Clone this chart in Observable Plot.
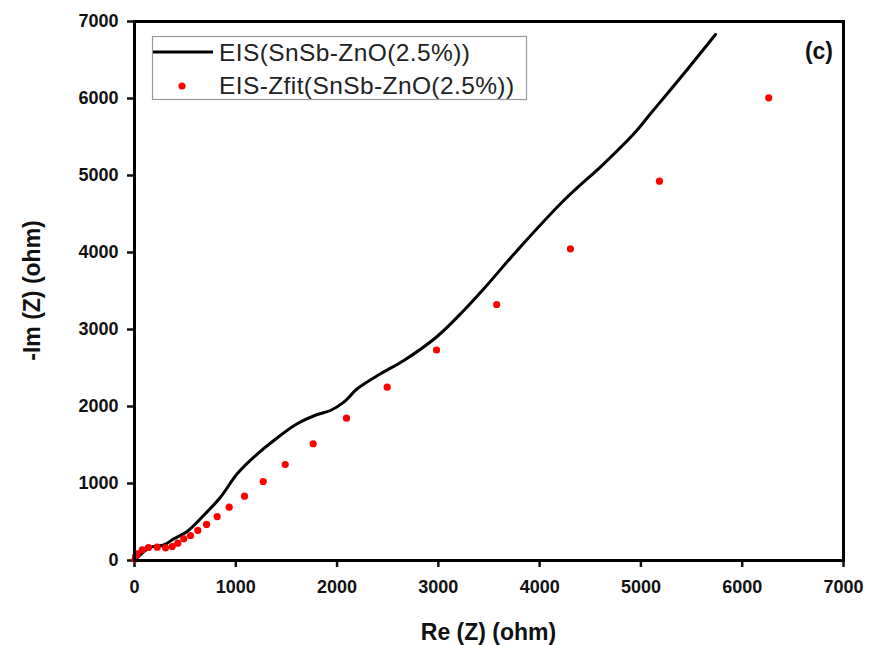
<!DOCTYPE html>
<html>
<head>
<meta charset="utf-8">
<script src="https://cdn.jsdelivr.net/npm/d3@7"></script>
<script src="https://cdn.jsdelivr.net/npm/@observablehq/plot@0.6"></script>
<style>
  html, body { margin: 0; padding: 0; background: #fff; }
  #chart { width: 869px; height: 645px; }
</style>
</head>
<body>
<div id="chart"></div>
<script>
// Measured EIS curve (Re Z, -Im Z)
const eisRe = [0, 158, 289, 388, 520, 691, 849, 1014, 1178, 1375, 1606, 1804, 1935, 2066, 2199, 2429, 2659, 2988, 3251, 3449, 3778, 4238, 4633, 4930, 5094, 5423, 5736];
const eisIm = [0, 173, 201, 282, 377, 597, 822, 1126, 1342, 1558, 1775, 1896, 1948, 2056, 2230, 2425, 2597, 2909, 3247, 3529, 4026, 4675, 5152, 5542, 5801, 6321, 6831];

// Fitted points
const fitRe = [5, 10, 27, 76, 138, 224, 306, 372, 427, 487, 553, 625, 711, 816, 935, 1086, 1271, 1488, 1764, 2093, 2495, 2982, 3576, 4304, 5183, 6262];
const fitIm = [15, 50, 87, 139, 169, 173, 165, 182, 225, 282, 325, 390, 468, 571, 692, 835, 1026, 1247, 1516, 1848, 2251, 2734, 3325, 4048, 4926, 6009];

const xTicks = [0, 1000, 2000, 3000, 4000, 5000, 6000, 7000];
const yTicks = [0, 1000, 2000, 3000, 4000, 5000, 6000, 7000];

const seriesNames = ["EIS(SnSb-ZnO(2.5%))", "EIS-Zfit(SnSb-ZnO(2.5%))"];
const xLabel = "Re (Z) (ohm)";
const yLabel = "-Im (Z) (ohm)";
const panelTag = "(c)";

const eis = eisRe.map((x, i) => ({x, y: eisIm[i]}));
const fit = fitRe.map((x, i) => ({x, y: fitIm[i]}));

const W = 869, H = 645;
const mL = 134, mR = 26, mT = 21, mB = 85;

const chart = Plot.plot({
  width: W, height: H,
  marginLeft: mL, marginRight: mR, marginTop: mT, marginBottom: mB,
  style: {fontFamily: "'Liberation Sans', Arial, sans-serif", background: "#fff", color: "#111"},
  x: {domain: [0, 7000]},
  y: {domain: [0, 7000]},
  marks: [
    Plot.axisX({ticks: xTicks, tickSize: 7, strokeWidth: 2.5, fontSize: 18, fontWeight: "bold", tickPadding: 13, tickFormat: d => String(d), label: null}),
    Plot.axisY({ticks: yTicks, tickSize: 7, strokeWidth: 2.5, fontSize: 18, fontWeight: "bold", tickPadding: 9, tickFormat: d => String(d), label: null}),
    Plot.line(eis, {x: "x", y: "y", curve: "catmull-rom", stroke: "#000", strokeWidth: 3}),
    Plot.dot(fit, {x: "x", y: "y", r: 3.6, fill: "#ff0000", stroke: "none"}),
    Plot.frame({stroke: "#000", strokeWidth: 3})
  ]
});

document.getElementById("chart").appendChild(chart);

const svg = d3.select(chart);
const font = "'Liberation Sans', Arial, sans-serif";

// Axis titles
svg.append("text")
  .attr("x", mL + (W - mL - mR) / 2).attr("y", 640)
  .attr("text-anchor", "middle")
  .attr("font-family", font).attr("font-weight", "bold").attr("font-size", 23)
  .attr("fill", "#111")
  .text(xLabel);

svg.append("text")
  .attr("transform", `translate(40, ${mT + (H - mT - mB) / 2}) rotate(-90)`)
  .attr("text-anchor", "middle")
  .attr("font-family", font).attr("font-weight", "bold").attr("font-size", 23)
  .attr("fill", "#111")
  .text(yLabel);

// Panel tag
svg.append("text")
  .attr("x", 833).attr("y", 59)
  .attr("text-anchor", "end")
  .attr("font-family", font).attr("font-weight", "bold").attr("font-size", 23)
  .attr("fill", "#111")
  .text(panelTag);

// Legend
const lg = svg.append("g");
lg.append("rect")
  .attr("x", 152.5).attr("y", 36.5).attr("width", 374).attr("height", 63)
  .attr("fill", "#fff").attr("stroke", "#999").attr("stroke-width", 1.2);
lg.append("line")
  .attr("x1", 153).attr("x2", 213).attr("y1", 52).attr("y2", 52)
  .attr("stroke", "#000").attr("stroke-width", 3);
lg.append("circle")
  .attr("cx", 182).attr("cy", 86).attr("r", 3.6).attr("fill", "#ff0000");
lg.append("text")
  .attr("x", 219).attr("y", 61)
  .attr("text-anchor", "start")
  .attr("font-family", font).attr("font-size", 24.5).attr("letter-spacing", 0.4).attr("fill", "#222")
  .text(seriesNames[0]);
lg.append("text")
  .attr("x", 219).attr("y", 94)
  .attr("text-anchor", "start")
  .attr("font-family", font).attr("font-size", 24.5).attr("letter-spacing", 0.4).attr("fill", "#222")
  .text(seriesNames[1]);
</script>
</body>
</html>
